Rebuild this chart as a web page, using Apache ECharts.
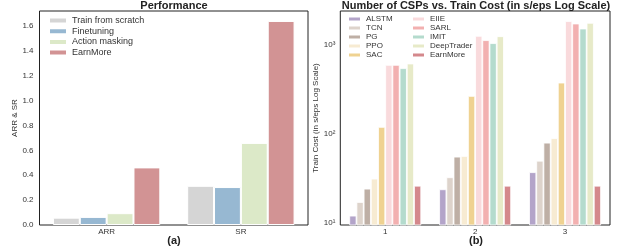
<!DOCTYPE html>
<html lang="en">
<head>
    <meta charset="UTF-8">
    <title>Performance and Train Cost</title>
    <script src="https://cdn.jsdelivr.net/npm/echarts@6.0.0/dist/echarts.min.js"></script>
    <style>
        body { margin: 0; background: #fff; }
        #main { width: 618px; height: 250px; }
    </style>
</head>
<body>
    <div id="main"></div>
    <script>
        // (a) performance
        var perfCategories = ['ARR', 'SR'];
        var perfNames = ['Train from scratch', 'Finetuning', 'Action masking', 'EarnMore'];
        var trainFromScratch = [0.059, 0.315];
        var finetuning = [0.065, 0.305];
        var actionMasking = [0.095, 0.66];
        var earnMorePerf = [0.463, 1.64];
        var perfColors = ['#d5d5d5', '#97b8d2', '#dce9c8', '#d29394'];

        // (b) train cost per number of CSPs (s/eps)
        var cspCategories = ['1', '2', '3'];
        var costNames = ['ALSTM', 'TCN', 'PG', 'PPO', 'SAC', 'EIIE', 'SARL', 'IMIT', 'DeepTrader', 'EarnMore'];
        var alstm = [12.1, 23.9, 37.2];
        var tcn = [17.2, 32.6, 50];
        var pg = [24.3, 55.6, 79.8];
        var ppo = [31.5, 56.6, 89.6];
        var sac = [120, 267, 377];
        var eiie = [596, 1262, 1845];
        var sarl = [596, 1129, 1735];
        var imit = [547, 1045, 1524];
        var deepTrader = [617, 1250, 1767];
        var earnMoreCost = [26.2, 26.2, 26.2];
        var costColors = ['#b3a4c9', '#ddd3cb', '#beafa5', '#f7ebd2', '#efd291',
                          '#f9dadc', '#f2b0b0', '#b4dbcd', '#e7eac8', '#d4888c'];

        var perfData = [trainFromScratch, finetuning, actionMasking, earnMorePerf];
        var costData = [alstm, tcn, pg, ppo, sac, eiie, sarl, imit, deepTrader, earnMoreCost];

        var font = 'Liberation Sans';
        var sup = { 1: '\u00b9', 2: '\u00b2', 3: '\u00b3', 4: '\u2074' };

        var chart = echarts.init(document.getElementById('main'));

        var series = [];
        perfNames.forEach(function (name, i) {
            series.push({
                name: name,
                type: 'bar',
                xAxisIndex: 0,
                yAxisIndex: 0,
                data: perfData[i],
                barGap: '0%',
                barCategoryGap: '20%',
                itemStyle: { color: perfColors[i], borderColor: '#fff', borderWidth: 1 }
            });
        });
        // trailing space keeps the two EarnMore entries apart in the legends
        costNames.forEach(function (name, i) {
            series.push({
                name: name + ' ',
                type: 'bar',
                xAxisIndex: 1,
                yAxisIndex: 1,
                data: costData[i],
                barGap: '0%',
                barCategoryGap: '20%',
                itemStyle: { color: costColors[i], borderColor: '#fff', borderWidth: 0.8 }
            });
        });

        var costLegendText = { fontFamily: font, fontSize: 8, color: '#333' };

        var option = {
            animation: false,
            backgroundColor: '#fff',
            title: [
                { text: 'Performance', left: 174, top: 0, padding: 0, textAlign: 'center',
                  textStyle: { fontFamily: font, fontSize: 11, fontWeight: 'bold', color: '#222' } },
                { text: 'Number of CSPs vs. Train Cost (in s/eps Log Scale)', left: 476, top: 0, padding: 0,
                  textAlign: 'center',
                  textStyle: { fontFamily: font, fontSize: 11, fontWeight: 'bold', color: '#222' } },
                { text: '(a)', left: 174, top: 235, padding: 0, textAlign: 'center',
                  textStyle: { fontFamily: font, fontSize: 11, fontWeight: 'bold', color: '#222' } },
                { text: '(b)', left: 476, top: 235, padding: 0, textAlign: 'center',
                  textStyle: { fontFamily: font, fontSize: 11, fontWeight: 'bold', color: '#222' } }
            ],
            legend: [
                { data: perfNames, orient: 'vertical', left: 48, top: 16, padding: 0,
                  itemWidth: 18, itemHeight: 6, itemGap: 1.7, icon: 'rect',
                  textStyle: { fontFamily: font, fontSize: 9, color: '#333' } },
                { data: costNames.slice(0, 5).map(function (n) { return n + ' '; }), orient: 'vertical',
                  left: 347, top: 15, padding: 0, itemWidth: 13, itemHeight: 5, itemGap: 1, icon: 'rect',
                  textStyle: costLegendText },
                { data: costNames.slice(5).map(function (n) { return n + ' '; }), orient: 'vertical',
                  left: 411, top: 15, padding: 0, itemWidth: 13, itemHeight: 5, itemGap: 1, icon: 'rect',
                  textStyle: costLegendText }
            ],
            grid: [
                { left: 39.5, top: 11, width: 268.5, height: 214, show: true,
                  borderColor: '#222', borderWidth: 1, backgroundColor: 'transparent' },
                { left: 340.3, top: 11, width: 269.7, height: 214, show: true,
                  borderColor: '#222', borderWidth: 1, backgroundColor: 'transparent' }
            ],
            xAxis: [
                { type: 'category', gridIndex: 0, data: perfCategories,
                  axisLine: { show: false }, axisTick: { show: false },
                  axisLabel: { fontFamily: font, fontSize: 8, color: '#333', margin: 3 } },
                { type: 'category', gridIndex: 1, data: cspCategories,
                  axisLine: { show: false }, axisTick: { show: false },
                  axisLabel: { fontFamily: font, fontSize: 8, color: '#333', margin: 3 } }
            ],
            yAxis: [
                { type: 'value', gridIndex: 0, min: 0, max: 1.72, interval: 0.2,
                  name: 'ARR & SR', nameLocation: 'middle', nameGap: 21,
                  nameTextStyle: { fontFamily: font, fontSize: 8, color: '#333' },
                  axisLine: { show: false }, axisTick: { show: false }, splitLine: { show: false },
                  axisLabel: { fontFamily: font, fontSize: 8, color: '#333', margin: 6, showMaxLabel: false,
                               formatter: function (v) { return v.toFixed(1); } } },
                { type: 'log', logBase: 10, gridIndex: 1, min: 9.5, max: 2400,
                  name: 'Train Cost (in s/eps Log Scale)', nameLocation: 'middle', nameGap: 19,
                  nameTextStyle: { fontFamily: font, fontSize: 8, color: '#333' },
                  axisLine: { show: false }, axisTick: { show: false }, splitLine: { show: false },
                  minorTick: { show: false },
                  axisLabel: { fontFamily: font, fontSize: 8, color: '#333', margin: 5,
                               showMinLabel: false, showMaxLabel: false,
                               formatter: function (v) {
                                   var l = Math.log10(v);
                                   var e = Math.round(l);
                                   if (Math.abs(l - e) > 0.01) return '';
                                   return '10' + sup[e];
                               } } }
            ],
            series: series
        };

        chart.setOption(option);
    </script>
</body>
</html>
